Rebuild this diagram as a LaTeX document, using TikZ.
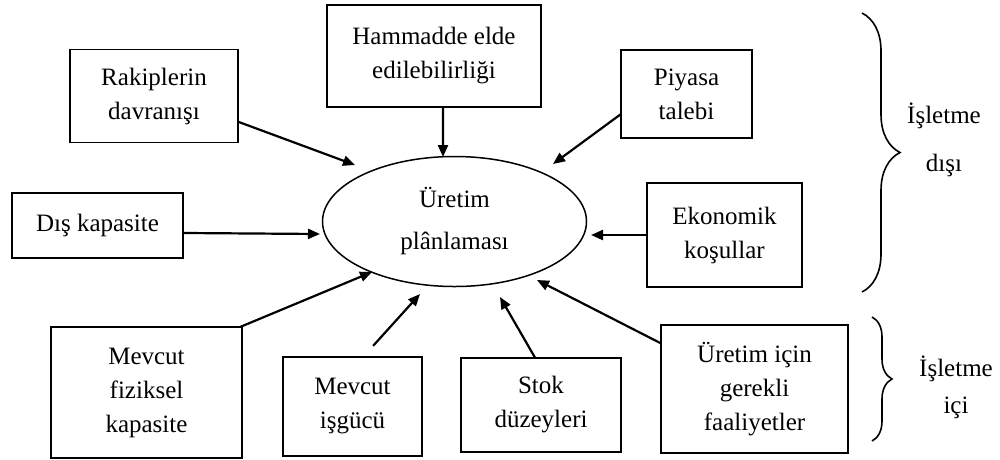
\documentclass[tikz,border=0pt]{standalone}
\usepackage{fontspec}
\setmainfont{Liberation Serif}
\usetikzlibrary{arrows.meta,decorations.pathreplacing,shapes.geometric}
\begin{document}
\begin{tikzpicture}[x=1pt,y=-1pt,
  box/.style={draw,line width=1.7pt,rectangle,inner sep=0pt,outer sep=0pt,align=center,
    font=\fontsize{25}{34}\selectfont},
  plan/.style={draw,ellipse,line width=1.5pt,minimum width=264pt,minimum height=130pt,
    inner sep=0pt,outer sep=0pt,align=center,font=\fontsize{25}{42}\selectfont},
  flow/.style={line width=2.2pt,-{Triangle[length=12pt,width=10pt]}},
  grp/.style={decorate,decoration={brace,amplitude=#1},line width=1.6pt},
  lbl/.style={align=center,font=\fontsize{25}{#1}\selectfont}
]
\useasboundingbox (0,0) rectangle (1000,459);

% central node
\node[plan] (plan) at (454.5,221.5) {Üretim\\plânlaması};

% external factors
\node[box,minimum width=214pt,minimum height=102pt] (ham) at (434,56) {Hammadde elde\\edilebilirliği};
\node[box,minimum width=168pt,minimum height=93pt] (rak) at (154,96) {Rakiplerin\\davranışı};
\node[box,minimum width=131pt,minimum height=88pt] (pi) at (686.5,94) {Piyasa\\talebi};
\node[box,minimum width=171pt,minimum height=65pt] (dis) at (97.5,225.5) {Dış kapasite};
\node[box,minimum width=155pt,minimum height=104pt] (eko) at (724.5,235) {Ekonomik\\koşullar};

% internal factors
\node[box,minimum width=191pt,minimum height=131pt] (fiz) at (146.5,392.5) {Mevcut\\fiziksel\\kapasite};
\node[box,minimum width=139pt,minimum height=99pt] (isg) at (352.5,406.5) {Mevcut\\işgücü};
\node[box,minimum width=160pt,minimum height=94pt] (stok) at (541,405) {Stok\\düzeyleri};
\node[box,minimum width=187pt,minimum height=128pt] (ure) at (754.5,389) {Üretim için\\gerekli\\faaliyetler};

% arrow tips around the ellipse
\coordinate (t-ham) at (443,157);
\coordinate (t-rak) at (355,165);
\coordinate (t-pi) at (553,164);
\coordinate (t-dis) at (320,234);
\coordinate (t-eko) at (591,235);
\coordinate (t-fiz) at (372,272);
\coordinate (t-isg) at (420,294);
\coordinate (t-stok) at (500,297);
\coordinate (t-ure) at (537,280);

\draw[flow] (ham.-80) -- (t-ham);
\draw[flow] (rak.-17.8) -- (t-rak);
\draw[flow] (pi.-163.8) -- (t-pi);
\draw[flow] (dis.-5.7) -- (t-dis);
\draw[flow] (eko.west) -- (t-eko);
\draw[flow] (fiz.35) -- (t-fiz);
\draw[flow,shorten <=15pt] (isg.78) -- (t-isg);
\draw[flow] (stok.97.3) -- (t-stok);
\draw[flow] (ure.154.8) -- (t-ure);

% grouping braces
\coordinate (b1a) at (862,13);
\coordinate (b1b) at (862,292);
\coordinate (b2a) at (872,317);
\coordinate (b2b) at (872,441);
\draw[grp=38pt] (b1a) -- (b1b);
\draw[grp=20pt] (b2a) -- (b2b);

\node[lbl=48] (ext) at (944,140) {İşletme\\dışı};
\node[lbl=37] (int) at (956,387) {İşletme\\içi};
\end{tikzpicture}
\end{document}
